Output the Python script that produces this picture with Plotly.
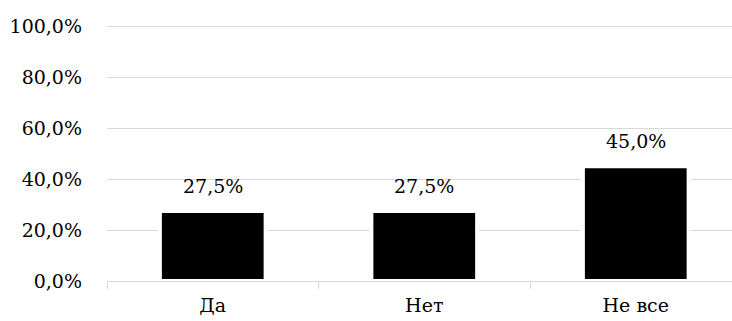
import plotly.graph_objects as go

categories = ["Да", "Нет", "Не все"]
values = [27.5, 27.5, 45.0]
y_ticks = [0, 20, 40, 60, 80, 100]
y_tick_labels = ["0,0%", "20,0%", "40,0%", "60,0%", "80,0%", "100,0%"]

FONT = "DejaVu Serif"
GRID = "#d9d9d9"


def pct(v):
    return f"{v:.1f}".replace(".", ",") + "%"


fig = go.Figure(
    go.Bar(
        x=categories,
        y=values,
        width=0.5,
        marker=dict(color="#000000", line=dict(color="#ffffff", width=4)),
        hoverinfo="skip",
    )
)

for c, v in zip(categories, values):
    fig.add_annotation(
        x=c, y=v, text=pct(v), showarrow=False,
        yanchor="bottom", yshift=12,
        font=dict(family=FONT, size=19, color="#000000"),
    )

fig.update_layout(
    width=732,
    height=321,
    margin=dict(l=107, r=0, t=25, b=40),
    paper_bgcolor="#ffffff",
    plot_bgcolor="#ffffff",
    showlegend=False,
    font=dict(family=FONT, size=19, color="#000000"),
    xaxis=dict(
        type="category",
        range=[-0.5, 2.455],
        showgrid=False,
        showline=False,
        ticks="outside",
        tickson="boundaries",
        ticklen=7,
        tickcolor=GRID,
        tickwidth=1.3,
        ticklabelstandoff=11,
        zeroline=False,
    ),
    yaxis=dict(
        range=[0, 100.4],
        tickvals=y_ticks,
        ticktext=y_tick_labels,
        showgrid=True,
        gridcolor=GRID,
        gridwidth=1.3,
        zeroline=True,
        zerolinecolor=GRID,
        zerolinewidth=1.3,
        showline=False,
        ticks="",
        ticklabelstandoff=24,
    ),
)

fig.write_html("out.html")
